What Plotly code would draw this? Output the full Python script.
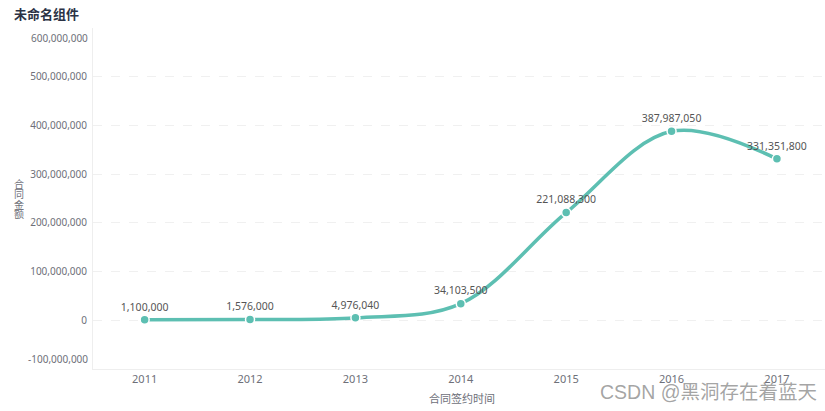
import plotly.graph_objects as go

years = ["2011", "2012", "2013", "2014", "2015", "2016", "2017"]
amounts = [1100000, 1576000, 4976040, 34103500, 221088300, 387987050, 331351800]
y_ticks = [-100000000, 0, 100000000, 200000000, 300000000, 400000000, 500000000, 600000000]
y_tick_labels = ["-100,000,000", "0", "100,000,000", "200,000,000", "300,000,000",
                 "400,000,000", "500,000,000", "600,000,000"]
y_title_chars = ["合", "同", "金", "额"]

xi = list(range(len(years)))
labels = [f"{v:,}" for v in amounts]

PLOT_H = 411 - 28 - 42
PLOT_W = 825 - 93
TICK_COLOR = "#6e7079"

# end tick labels are pulled inside the plot (as in the reference), so draw them as annotations
inner_ticktext = [t if i not in (0, len(y_ticks) - 1) else "" for i, t in enumerate(y_tick_labels)]

fig = go.Figure()
fig.add_trace(go.Scatter(
    x=xi, y=amounts, mode="lines+markers+text",
    line=dict(color="#5dbfb2", width=3.5, shape="spline", smoothing=1.0),
    marker=dict(size=9, color="#5dbfb2", line=dict(color="white", width=1.5)),
    text=labels, textposition="top center",
    textfont=dict(family="Noto Sans, Open Sans, sans-serif", size=10.5, color="#555"),
    cliponaxis=False, hoverinfo="skip", showlegend=False,
))

annotations = [
    dict(text="<b>未命名组件</b>", xref="paper", yref="paper", x=-93 / PLOT_W, y=1.0,
         yshift=15, xshift=12, xanchor="left", yanchor="middle", showarrow=False,
         font=dict(size=13, color="#2b3245", family="Noto Sans CJK SC")),
    dict(text="合同签约时间", xref="paper", yref="paper", x=(462 - 93) / PLOT_W, y=0,
         yshift=-29, xanchor="center", yanchor="middle", showarrow=False,
         font=dict(size=11, color=TICK_COLOR, family="Noto Sans CJK SC")),
    dict(text="CSDN @黑洞存在着蓝天", xref="paper", yref="paper", x=(598 - 93) / PLOT_W, y=0,
         yshift=-23, xanchor="left", yanchor="middle", showarrow=False,
         font=dict(size=19.5, color="rgba(125,125,125,0.7)", family="Liberation Sans, Noto Sans CJK SC")),
    dict(text=y_tick_labels[-1], xref="paper", yref="y", x=0, y=y_ticks[-1], xshift=-3,
         yshift=-10, xanchor="right", yanchor="middle", showarrow=False,
         font=dict(size=10, color=TICK_COLOR)),
    dict(text=y_tick_labels[0], xref="paper", yref="y", x=0, y=y_ticks[0], xshift=-3,
         yshift=10, xanchor="right", yanchor="middle", showarrow=False,
         font=dict(size=10, color=TICK_COLOR)),
]

# vertical, upright y-axis title, stacked one character at a time
char_centers_px = [183.5, 193.5, 204, 213.5]
for ch, py in zip(y_title_chars, char_centers_px):
    annotations.append(dict(
        text=ch, xref="paper", yref="paper", x=(18.5 - 93) / PLOT_W, y=(369 - py) / PLOT_H,
        xanchor="center", yanchor="middle", showarrow=False,
        font=dict(size=10, color=TICK_COLOR, family="Noto Sans CJK SC")))

fig.update_layout(
    width=825, height=411,
    margin=dict(l=93, r=0, t=28, b=42),
    paper_bgcolor="white", plot_bgcolor="white",
    font=dict(family="Noto Sans, Noto Sans CJK SC, sans-serif", color=TICK_COLOR),
    xaxis=dict(
        range=[-0.49, 6.456], tickmode="array", tickvals=xi, ticktext=years,
        showgrid=False, zeroline=False, showline=True, linecolor="#eeeeee", linewidth=1,
        ticks="", tickfont=dict(size=11, color=TICK_COLOR), fixedrange=True,
    ),
    yaxis=dict(
        range=[-100000000, 600000000], tickmode="array", tickvals=y_ticks, ticktext=inner_ticktext,
        showgrid=True, gridcolor="#f0f0f0", griddash="dash", gridwidth=1,
        zeroline=False, showline=True, linecolor="#eeeeee", linewidth=1,
        ticks="", ticklabelstandoff=3, tickfont=dict(size=10, color=TICK_COLOR),
    ),
    annotations=annotations,
)

fig.write_html("out.html")
